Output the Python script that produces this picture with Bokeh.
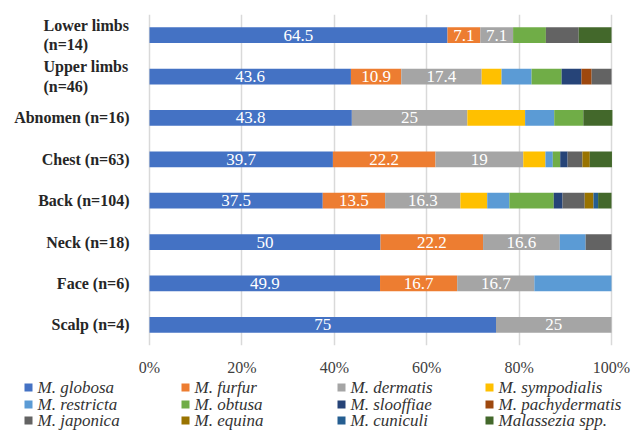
import numpy as np
from bokeh.plotting import figure
from bokeh.layouts import column
from bokeh.models import (ColumnDataSource, FactorRange, Range1d, FixedTicker,
                          PrintfTickFormatter)
from bokeh.core.properties import value
from bokeh.embed import file_html
from bokeh.resources import INLINE

# ---- data (bottom to top) ----
parts = ["Scalp (n=4)", "Face (n=6)", "Neck (n=18)", "Back (n=104)", "Chest (n=63)",
         "Abnomen (n=16)", "Upper limbs\n(n=46)", "Lower limbs\n(n=14)"]

species = ["M. globosa", "M. furfur", "M. dermatis", "M. sympodialis",
           "M. restricta", "M. obtusa", "M. slooffiae", "M. pachydermatis",
           "M. japonica", "M. equina", "M. cuniculi", "Malassezia spp."]

globosa       = [75, 49.9, 50, 37.5, 39.7, 43.8, 43.6, 64.5]
furfur        = [0, 16.7, 22.2, 13.5, 22.2, 0, 10.9, 7.1]
dermatis      = [25, 16.7, 16.6, 16.3, 19, 25, 17.4, 7.1]
sympodialis   = [0, 0, 0, 5.8, 4.8, 12.5, 4.3, 0]
restricta     = [0, 16.7, 5.6, 4.8, 1.6, 6.3, 6.5, 0]
obtusa        = [0, 0, 0, 9.6, 1.6, 6.3, 6.5, 7.1]
slooffiae     = [0, 0, 0, 1.9, 1.6, 0, 4.3, 0]
pachydermatis = [0, 0, 0, 0, 0, 0, 2.2, 0]
japonica      = [0, 0, 5.6, 4.8, 3.2, 0, 4.3, 7.1]
equina        = [0, 0, 0, 1.9, 1.6, 0, 0, 0]
cuniculi      = [0, 0, 0, 1.0, 0, 0, 0, 0]
malassezia    = [0, 0, 0, 2.9, 4.8, 6.3, 0, 7.1]

series = [globosa, furfur, dermatis, sympodialis, restricta, obtusa, slooffiae,
          pachydermatis, japonica, equina, cuniculi, malassezia]

colors = ["#4472C4", "#ED7D31", "#A5A5A5", "#FFC000", "#5B9BD5", "#70AD47",
          "#264478", "#9E480E", "#636363", "#997300", "#255E91", "#43682B"]

x_ticks = [0, 20, 40, 60, 80, 100]
labelled = 3  # globosa, furfur, dermatis carry value labels

SERIF = "Liberation Serif"
W, H_MAIN, H_LEG = 632, 378, 52

# layout in page pixels: the 0..100 % axis runs from x=149 to x=611
PX0, PX1 = 149, 611
ppu = (PX1 - PX0) / 100.0
x_lo, x_hi = -PX0 / ppu, (W - PX0) / ppu

# ---- main chart (frame spans the full width; category names drawn as text) ----
p = figure(width=W, height=H_MAIN, output_backend="svg", toolbar_location=None,
           y_range=FactorRange(*parts), x_range=Range1d(x_lo, x_hi),
           y_axis_location=None,
           min_border_left=0, min_border_right=0, min_border_top=14,
           min_border_bottom=32)
p.outline_line_color = None
p.background_fill_color = "white"

keys = ["s%d" % i for i in range(len(series))]
data = {"part": parts}
for k, s in zip(keys, series):
    data[k] = s
src = ColumnDataSource(data)
p.hbar_stack(keys, y="part", height=0.38, color=colors, line_color=None,
             source=src)

# value labels (white, centred in their segment)
arr = np.array(series, dtype=float)
cum = np.cumsum(arr, axis=0)
lx, ly, lt = [], [], []
for i in range(labelled):
    for j, part in enumerate(parts):
        v = arr[i, j]
        if v > 0:
            lx.append(cum[i, j] - v / 2)
            ly.append(part)
            lt.append(f"{v:g}")
p.text(x=lx, y=ly, text=lt, text_align="center", text_baseline="middle",
       text_color="white", text_font=value(SERIF), text_font_size="17px")

# category names (bold); two-line names are left-aligned blocks
single = [s for s in parts if "\n" not in s]
multi = [s for s in parts if "\n" in s]
p.text(x=[(129 - PX0) / ppu] * len(single), y=single, text=single,
       text_align="right", text_baseline="middle", text_color="#262626",
       text_font=value(SERIF), text_font_style="bold", text_font_size="16px")
p.text(x=[(43 - PX0) / ppu] * len(multi), y=multi, text=multi,
       text_align="left", text_baseline="middle", text_color="#262626",
       text_font=value(SERIF), text_font_style="bold", text_font_size="16px",
       text_line_height=1.15)

# x axis
p.xaxis.ticker = FixedTicker(ticks=x_ticks)
p.xaxis.formatter = PrintfTickFormatter(format="%d%%")
p.xaxis.axis_line_color = None
p.xaxis.major_tick_line_color = None
p.xaxis.minor_tick_line_color = None
p.xaxis.major_label_standoff = 7
p.xaxis.major_label_text_font = SERIF
p.xaxis.major_label_text_font_size = "16px"
p.xaxis.major_label_text_color = "#404040"

p.ygrid.grid_line_color = None
p.xgrid.ticker = FixedTicker(ticks=x_ticks)
p.xgrid.grid_line_color = "#D9D9D9"
p.xgrid.grid_line_width = 1.5

# ---- legend strip (4 columns x 3 rows, row-major) ----
leg = figure(width=W, height=H_LEG, output_backend="svg", toolbar_location=None,
             x_range=Range1d(0, W), y_range=Range1d(H_LEG, 0),
             x_axis_location=None, y_axis_location=None,
             min_border=0, min_border_left=0, min_border_right=0,
             min_border_top=0, min_border_bottom=0)
leg.outline_line_color = None
leg.grid.visible = False

col_x = [28, 185, 341, 489]
row_y = [9, 26, 42]
mx = [col_x[i % 4] for i in range(len(species))]
my = [row_y[i // 4] for i in range(len(species))]
leg.scatter(x=mx, y=my, marker="square", size=8, color=colors, line_color=None)
leg.text(x=[v + 9 for v in mx], y=my, text=species, text_align="left",
         text_baseline="middle", text_color="#333333", text_font=value(SERIF),
         text_font_style="italic", text_font_size="17px")

layout = column(p, leg, spacing=0)
open("out.html", "w").write(file_html(layout, INLINE))
